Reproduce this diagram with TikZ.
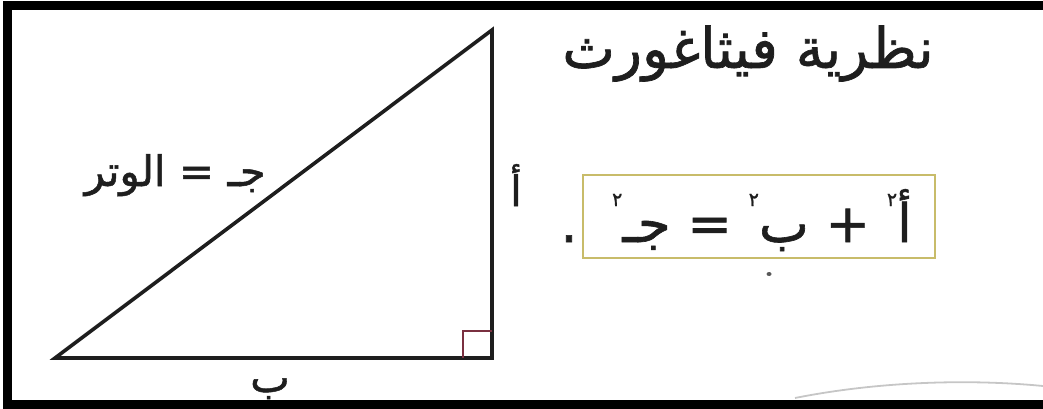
\documentclass[tikz,border=0pt]{standalone}
\usepackage{fontspec}
\newfontfamily\arabicfont[Script=Arabic,FakeBold=1.2]{DejaVu Sans}
\TeXXeTstate=1
\definecolor{anglecol}{HTML}{7A3040}
\definecolor{boxcol}{HTML}{C8BC6A}
\definecolor{inkcol}{HTML}{1E1E1E}
\newcommand{\supd}{\raisebox{36pt}{\fontsize{19}{22}\selectfont ٢}}
\tikzset{
  frameline/.style={line width=9pt, color=black},
  triline/.style={line width=3.6pt, color=inkcol, line join=miter},
  arlabel/.style={inner sep=0pt, text=inkcol, font=\arabicfont\fontsize{42}{48}\selectfont},
  titlelabel/.style={inner sep=0pt, text=inkcol, font=\arabicfont\fontsize{56}{64}\selectfont},
  eqlabel/.style={inner sep=0pt, text=inkcol, font=\arabicfont\fontsize{53}{60}\selectfont},
  eqbox/.style={draw=boxcol, line width=1.8pt, minimum width=352pt, minimum height=83pt, inner sep=0pt},
}
\begin{document}
\begin{tikzpicture}[x=1pt,y=-1pt]
\useasboundingbox (0,0) rectangle (1043,409);
% faint curve bottom right
\draw[gray!45, line width=1.8pt] (795,398) .. controls (870,383) and (960,378) .. (1043,386);
% triangle
\coordinate (A) at (55,358);
\coordinate (B) at (492,358);
\coordinate (C) at (492,30);
\draw[triline] (A) -- (B) -- (C) -- cycle;
% right angle mark
\draw[anglecol, line width=1.4pt] (463,358) -- (463,331) -- (492,331);
% labels
\node[arlabel, anchor=base east] (hyp) at (266,186) {\beginR جـ = الوتر\endR};
\node[arlabel, anchor=base] (sa) at (516,206) {\beginR أ\endR};
\node[arlabel, anchor=base] (sb) at (270,392) {\beginR ب\endR};
% title
\node[titlelabel, anchor=base] (title) at (748,68) {\beginR نظرية فيثاغورث\endR};
% equation box
\node[eqbox] (box) at (759,216.5) {};
\node[eqlabel, anchor=base] (eq) at (762,242)
  {\beginR أ\supd{} + ب\supd{} = جـ\supd\endR};
\node[eqlabel, anchor=base] (dot) at (569,242) {.};
\fill[gray!70!black] (769,274) ellipse (2.5pt and 2pt);
% frame
\draw[frameline] (1043,5.5) -- (7.5,5.5) -- (7.5,404.5) -- (1043,404.5);
\end{tikzpicture}
\end{document}
